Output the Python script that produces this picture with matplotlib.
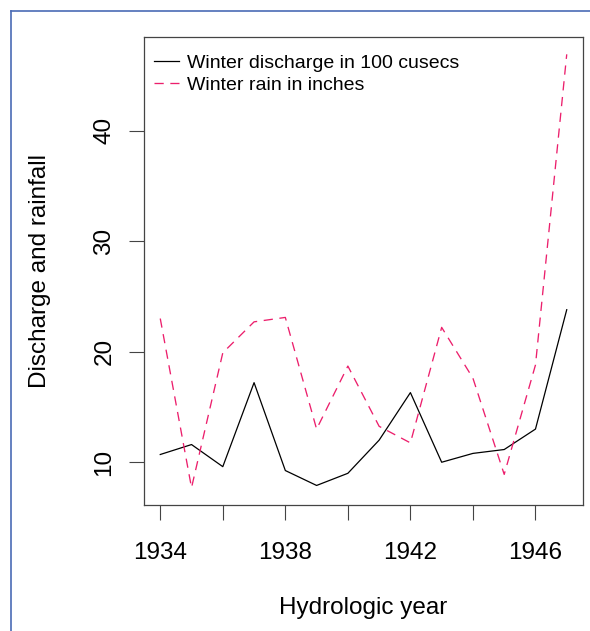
"""
Winter discharge and winter rain by hydrologic year.
"""

import matplotlib
matplotlib.use('Agg')
import matplotlib.pyplot as plt
from matplotlib.lines import Line2D

plt.rcParams['font.family'] = ['Liberation Sans', 'DejaVu Sans']

years = [1934, 1935, 1936, 1937, 1938, 1939, 1940, 1941, 1942, 1943, 1944, 1945, 1946, 1947]
discharge = [10.7, 11.6, 9.6, 17.2, 9.25, 7.9, 9.0, 12.0, 16.3, 10.0, 10.8, 11.15, 13.0, 23.8]
rain = [23.0, 7.7, 19.9, 22.7, 23.1, 13.0, 18.7, 13.25, 11.75, 22.2, 17.6, 8.9, 18.8, 46.9]
xticks = [1934, 1936, 1938, 1940, 1942, 1944, 1946]
xticklabels = ['1934', '', '1938', '', '1942', '', '1946']
yticks = [10, 20, 30, 40]

fig = plt.figure(figsize=(5.9, 6.31), dpi=100)
ax = fig.add_axes([144/590, 1-505/631, (583-144)/590, (505-37)/631])

ax.plot(years, discharge, color='black', lw=0.9, label='Winter discharge in 100 cusecs')
ax.plot(years, rain, color='#ec1f6c', lw=0.95, dashes=(7, 5), label='Winter rain in inches')

# R style 4% padding on both axes
lo, hi = min(years), max(years)
ax.set_xlim(lo - 0.04*(hi-lo), hi + 0.04*(hi-lo))
ymin = min(min(discharge), min(rain))
ymax = max(max(discharge), max(rain))
ax.set_ylim(ymin - 0.04*(ymax-ymin), ymax + 0.04*(ymax-ymin))

ax.set_xticks(xticks)
ax.set_xticklabels(xticklabels)
ax.set_yticks(yticks)
ax.set_yticklabels([str(v) for v in yticks], rotation=90, va='center')
ax.tick_params(axis='both', direction='out', length=11, width=0.8, color='#444444',
               labelsize=17.5)
ax.tick_params(axis='x', pad=15.5)
ax.tick_params(axis='y', pad=9.5)

for s in ax.spines.values():
    s.set_color('#444444')
    s.set_linewidth(0.9)

ax.set_xlabel('Hydrologic year', fontsize=17.5, va='center')
ax.xaxis.set_label_coords(0.5, -0.22)
ax.set_ylabel('Discharge and rainfall', fontsize=17.5, va='center')
ax.yaxis.set_label_coords(-0.237, 0.5)

ax.legend(loc='upper left', bbox_to_anchor=(-0.018, 1.0), frameon=False, fontsize=14,
          handlelength=1.3, handletextpad=0.4, labelspacing=0.2, borderpad=0.9,
          borderaxespad=0.0)

# blue frame lines from the source page
fig.add_artist(Line2D([11/590, 11/590], [0, 1-11/631], color='#4a6bb5', lw=1.2))
fig.add_artist(Line2D([11/590, 1], [1-11/631, 1-11/631], color='#4a6bb5', lw=1.2))

plt.savefig('out.png', dpi=100)
